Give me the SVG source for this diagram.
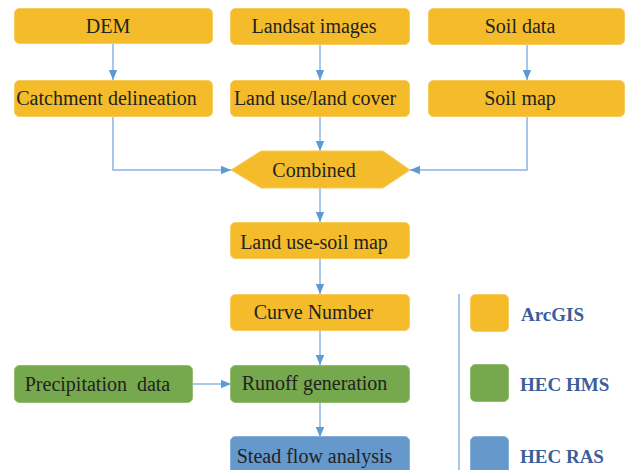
<svg xmlns="http://www.w3.org/2000/svg" width="629" height="470" viewBox="0 0 629 470">
<style>
.y{fill:#F4BC2B;stroke:#F7CB5E;stroke-width:1}
.g{fill:#76A84D;stroke:#93BC70;stroke-width:1}
.b{fill:#6598CB;stroke:#85B0DC;stroke-width:1}
.t{font-family:"Liberation Serif","Times New Roman",serif;font-size:20px;fill:#222;text-anchor:middle}
.l{font-family:"Liberation Serif","Times New Roman",serif;font-size:19px;font-weight:bold;fill:#3D5C9B}
.c{fill:none;stroke:#8DB4E2;stroke-width:1.5}
</style>
<defs>
<marker id="ah" markerUnits="userSpaceOnUse" markerWidth="10" markerHeight="10" viewBox="0 0 10 10" refX="10" refY="5" orient="auto">
<path d="M0,0.8 L10,5 L0,9.2 Z" fill="#5B9BD5"/>
</marker>
</defs>
<g id="connectors">
<path class="c" d="M113 43 V80" marker-end="url(#ah)"/>
<path class="c" d="M320 45 V80" marker-end="url(#ah)"/>
<path class="c" d="M527 45 V80" marker-end="url(#ah)"/>
<path class="c" d="M113 117 V170 H231" marker-end="url(#ah)"/>
<path class="c" d="M320 117 V151" marker-end="url(#ah)"/>
<path class="c" d="M527 117 V170 H410" marker-end="url(#ah)"/>
<path class="c" d="M320 188 V222" marker-end="url(#ah)"/>
<path class="c" d="M320 259 V294" marker-end="url(#ah)"/>
<path class="c" d="M320 331 V365" marker-end="url(#ah)"/>
<path class="c" d="M193 384 H231" marker-end="url(#ah)"/>
<path class="c" d="M320 403 V437" marker-end="url(#ah)"/>
<path d="M459 294 V470" stroke="#8DB4E2" stroke-width="1.5" fill="none"/>
</g>
<g id="dem"><rect class="y" x="14.5" y="8.5" width="198" height="35" rx="5"/><text class="t" x="108" y="33">DEM</text></g>
<g id="landsat"><rect class="y" x="230.5" y="8.5" width="179" height="36" rx="5"/><text class="t" x="314" y="33">Landsat images</text></g>
<g id="soildata"><rect class="y" x="428.5" y="8.5" width="196" height="36" rx="5"/><text class="t" x="520" y="33">Soil data</text></g>
<g id="catchment"><rect class="y" x="14.5" y="80.5" width="198" height="36" rx="5"/><text class="t" x="106.5" y="105">Catchment delineation</text></g>
<g id="lulc"><rect class="y" x="230.5" y="80.5" width="179" height="36" rx="5"/><text class="t" x="315" y="105">Land use/land cover</text></g>
<g id="soilmap"><rect class="y" x="428.5" y="80.5" width="196" height="36" rx="5"/><text class="t" x="520" y="105">Soil map</text></g>
<g id="combined"><polygon class="y" points="231,170 261,151 383,151 410,170 383,188 261,188"/><text class="t" x="314" y="177">Combined</text></g>
<g id="landusesoil"><rect class="y" x="230.5" y="222.5" width="179" height="36" rx="5"/><text class="t" x="314" y="249">Land use-soil map</text></g>
<g id="curvenumber"><rect class="y" x="230.5" y="294.5" width="179" height="36" rx="5"/><text class="t" x="313.5" y="319">Curve Number</text></g>
<g id="precip"><rect class="g" x="14.5" y="365.5" width="178" height="37" rx="5"/><text class="t" x="97.5" y="390.5" xml:space="preserve" style="white-space:pre">Precipitation  data</text></g>
<g id="runoff"><rect class="g" x="230.5" y="365.5" width="179" height="37" rx="5"/><text class="t" x="314.5" y="390">Runoff generation</text></g>
<g id="steadflow"><rect class="b" x="230.5" y="436.5" width="179" height="40" rx="5"/><text class="t" x="314.5" y="463">Stead flow analysis</text></g>
<g id="legend-arcgis"><rect class="y" x="470.5" y="294.5" width="38" height="37" rx="5"/><text class="l" x="521" y="321">ArcGIS</text></g>
<g id="legend-hms"><rect class="g" x="470.5" y="364.5" width="38" height="37" rx="5"/><text class="l" x="520" y="391">HEC HMS</text></g>
<g id="legend-ras"><rect class="b" x="470.5" y="436.5" width="38" height="40" rx="5"/><text class="l" x="520" y="463">HEC RAS</text></g>
</svg>
